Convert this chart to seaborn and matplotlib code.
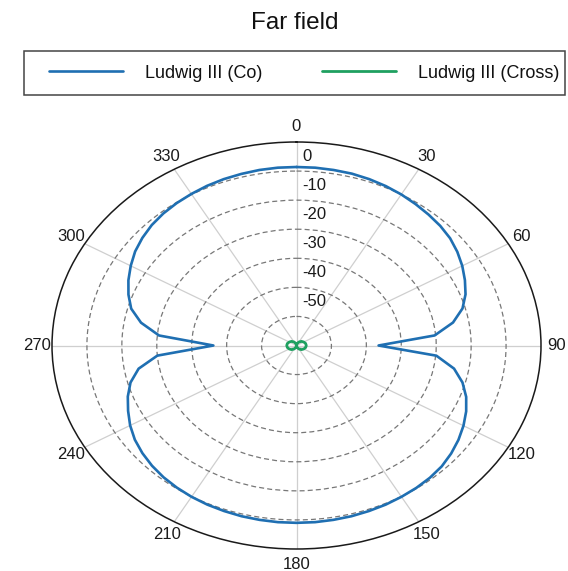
import numpy as np
import matplotlib
matplotlib.use("Agg")
import matplotlib.pyplot as plt
from matplotlib.patches import Rectangle
import seaborn as sns

# Far field pattern values (dB)
co_theta = [0, 5, 10, 15, 20, 25, 30, 35, 40, 45, 50, 55, 60, 65, 70, 75, 80, 85,
            90, 95, 100, 105, 110, 115, 120, 125, 130, 135, 140, 145, 150, 155, 160, 165,
            170, 175, 180, 185, 190, 195, 200, 205, 210, 215, 220, 225, 230, 235, 240, 245,
            250, 255, 260, 265, 270, 275, 280, 285, 290, 295, 300, 305, 310, 315, 320, 325,
            330, 335, 340, 345, 350, 355, 360]
co_db = [1.4, 1.4, 1.3, 1.2, 0.9, 0.5, 0.0, -0.6, -1.2, -1.8, -2.6, -3.8, -5.2, -6.8, -8.5, -10.8, -14.5, -20.3,
         -36.5, -19.8, -14.2, -10.8, -8.3, -6.4, -4.8, -3.4, -2.2, -1.2, -0.6, -0.2, 0.1, 0.4, 0.6, 0.8,
         0.9, 1.0, 1.0, 1.0, 0.9, 0.8, 0.6, 0.4, 0.1, -0.3, -0.8, -1.5, -2.4, -3.5, -5.0, -6.8,
         -8.6, -10.8, -14.1, -20.0, -36.2, -20.5, -14.8, -11.0, -8.8, -6.9, -5.2, -3.6, -2.4, -1.4, -0.7, -0.2,
         0.2, 0.6, 0.9, 1.1, 1.3, 1.4, 1.4]

cross_theta = [0, 15, 30, 45, 60, 75, 90, 105, 120, 135, 150, 165, 180,
               195, 210, 225, 240, 255, 270, 285, 300, 315, 330, 345, 360]
cross_db = [-60.0, -59.3, -58.6, -58.0, -57.6, -57.3, -57.2, -57.3, -57.6, -58.0, -58.6, -59.3, -60.0,
            -59.3, -58.6, -58.0, -57.6, -57.3, -57.2, -57.3, -57.6, -58.0, -58.6, -59.3, -60.0]

theta_ticks = list(range(0, 360, 30))
r_ticks = [-50, -40, -30, -20, -10, 0]
r_min, r_max = -60, 10

sns.set_style("white")
plt.rcParams['font.family'] = ['Liberation Sans', 'DejaVu Sans']
plt.rcParams['text.color'] = '#111111'

fig = plt.figure(figsize=(5.68, 5.71), dpi=100)
ax = fig.add_axes([52 / 568, 22 / 571, 489 / 568, 407 / 571], projection='polar')
ax.set_aspect('auto')

sns.lineplot(x=np.deg2rad(co_theta), y=co_db, ax=ax, sort=False, color='#1f6fb2',
             linewidth=1.9, label='Ludwig III (Co)', legend=False)
sns.lineplot(x=np.deg2rad(cross_theta), y=cross_db, ax=ax, sort=False, color='#1fa060',
             linewidth=2.0, label='Ludwig III (Cross)', legend=False)

ax.set_theta_zero_location('N')
ax.set_theta_direction(-1)
ax.set_rlim(r_min, r_max)
ax.set_xlabel('')
ax.set_ylabel('')

ax.set_thetagrids(theta_ticks, [str(t) for t in theta_ticks], fontsize=12)
ax.tick_params(axis='x', pad=0.5, colors='#1a1a1a')
ax.xaxis.grid(True, color='#cfcfcf', linewidth=0.9, linestyle='-')
ax.set_rticks(r_ticks)
ax.set_yticklabels([])
ax.yaxis.grid(True, color='#777777', linewidth=0.9, linestyle=(0, (4, 2.5)))
ax.spines['polar'].set_color('#1a1a1a')
ax.spines['polar'].set_linewidth(1.1)

# r labels sit halfway between rings, right of the 0 deg line
for t in r_ticks:
    ax.annotate(str(t), xy=(0, t + 5), xytext=(4, 0), textcoords='offset points',
                ha='left', va='center', fontsize=12, color='#1a1a1a')

fig.text(295 / 568, 1 - 29 / 571, 'Far field', ha='center', va='baseline', fontsize=17.5,
         color='#111111')

handles, labels = ax.get_legend_handles_labels()
fig.legend(handles, labels, loc='center', ncol=2, mode='expand', frameon=False,
           bbox_to_anchor=(49 / 568, 1 - 95 / 571, 510 / 568, 44 / 571),
           borderaxespad=0, borderpad=0, handlelength=4.1, handletextpad=1.2,
           fontsize=13)
fig.patches.append(Rectangle((24 / 568, 1 - 95 / 571), 541 / 568, 44 / 571,
                             transform=fig.transFigure, fill=False,
                             edgecolor='#444444', linewidth=1.1))

fig.savefig('out.png', dpi=100)
